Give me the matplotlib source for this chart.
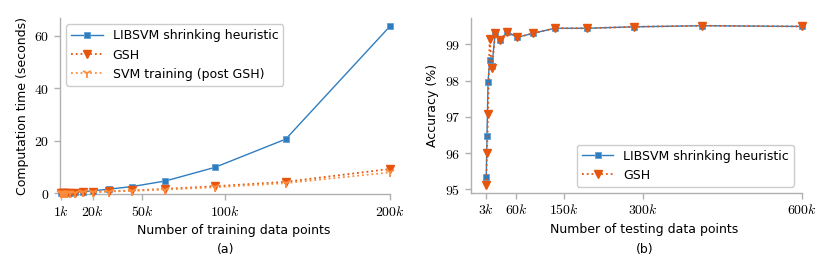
import matplotlib
matplotlib.use("Agg")
import matplotlib.pyplot as plt

plt.rcParams['font.family'] = ['DejaVu Sans']
plt.rcParams['mathtext.fontset'] = 'cm'

# ---- data (a) ----
train_k = [1, 1.46, 2.1, 3.1, 4.5, 6.6, 9.6, 14, 20.5, 30, 44, 64, 94, 137, 200]
libsvm_time = [0.02, 0.03, 0.05, 0.08, 0.12, 0.2, 0.35, 0.55, 0.9, 1.5, 2.5, 4.6, 9.8, 20.6, 63.6]
gsh_time = [0.01, 0.02, 0.03, 0.05, 0.08, 0.12, 0.2, 0.3, 0.45, 0.7, 1.0, 1.6, 2.6, 4.3, 9.2]
svm_post_time = [0.01, 0.02, 0.03, 0.04, 0.06, 0.1, 0.17, 0.25, 0.38, 0.6, 0.85, 1.35, 2.2, 3.8, 7.9]
xticks_a = [1, 20, 50, 100, 200]
xtick_labels_a = ['$1k$', '$20k$', '$50k$', '$100k$', '$200k$']
yticks_a = [0, 20, 40, 60]

# ---- data (b) ----
test_k = [3, 4.4, 6.4, 9.4, 13.7, 20, 29, 43, 62, 91, 133, 194, 283, 412, 600]
libsvm_acc = [95.34, 96.46, 97.96, 98.56, 98.39, 99.32, 99.12, 99.33, 99.19, 99.30, 99.44, 99.44, 99.48, 99.51, 99.49]
gsh_acc = [95.12, 96.01, 97.08, 99.15, 98.34, 99.32, 99.12, 99.33, 99.19, 99.30, 99.44, 99.44, 99.48, 99.51, 99.49]
xticks_b = [3, 60, 150, 300, 600]
xtick_labels_b = ['$3k$', '$60k$', '$150k$', '$300k$', '$600k$']
yticks_b = [95, 96, 97, 98, 99]

BLUE = '#2f7dbf'
ORANGE = '#e6550d'
LORANGE = '#fd8d3c'
GREY = '#b0b0b0'
FS = 8.5

fig = plt.figure(figsize=(8.3, 2.7), dpi=100)
axa = fig.add_axes([0.0725, 0.280, 0.417, 0.653])
axb = fig.add_axes([0.567, 0.285, 0.418, 0.648])


def style(ax):
    for s in ['top', 'right']:
        ax.spines[s].set_visible(False)
    for s in ['left', 'bottom']:
        ax.spines[s].set_color(GREY)
        ax.spines[s].set_linewidth(1.0)
    ax.tick_params(colors='black', length=4, width=1.0, labelsize=FS + 1.5, direction='out')
    ax.tick_params(axis='both', color=GREY)


axa.plot(train_k, libsvm_time, '-s', color=BLUE, ms=4.5, lw=1.0, mec='#5fa0d6', mew=0.6,
         label='LIBSVM shrinking heuristic', clip_on=False, zorder=3)
axa.plot(train_k, gsh_time, ':v', color=ORANGE, ms=5.5, lw=1.3,
         label='GSH', clip_on=False, zorder=4)
axa.plot(train_k, svm_post_time, ':1', color=LORANGE, ms=7, lw=1.3, mew=1.3,
         label='SVM training (post GSH)', clip_on=False, zorder=4)
axa.set_xlim(0.4, 210)
axa.set_ylim(-0.5, 66.8)
axa.set_xticks(xticks_a)
axa.set_xticklabels(xtick_labels_a)
axa.set_yticks(yticks_a)
axa.set_yticklabels(['$%d$' % v for v in yticks_a])
style(axa)
axa.spines['bottom'].set_bounds(0.4, 200)
axa.set_xlabel('Number of training data points', fontsize=FS + 0.5, labelpad=4)
axa.set_ylabel('Computation time (seconds)', fontsize=FS + 0.5, labelpad=4)
axa.legend(loc='upper left', fontsize=FS + 0.5, frameon=True, fancybox=True,
           edgecolor='#cccccc', framealpha=1.0, borderpad=0.4, handlelength=2.5,
           bbox_to_anchor=(0.0, 1.0))

axb.plot(test_k, libsvm_acc, '-s', color=BLUE, ms=4.5, lw=1.0, mec='#5fa0d6', mew=0.6,
         label='LIBSVM shrinking heuristic', clip_on=False, zorder=3)
axb.plot(test_k, gsh_acc, ':v', color=ORANGE, ms=5.5, lw=1.3,
         label='GSH', clip_on=False, zorder=4)
axb.set_xlim(-26.6, 629.8)
axb.set_ylim(94.90, 99.72)
axb.set_xticks(xticks_b)
axb.set_xticklabels(xtick_labels_b)
axb.set_yticks(yticks_b)
axb.set_yticklabels(['$%d$' % v for v in yticks_b])
style(axb)
axb.spines['bottom'].set_bounds(-26.6, 600)
axb.set_xlabel('Number of testing data points', fontsize=FS + 0.5, labelpad=4)
axb.set_ylabel('Accuracy (%)', fontsize=FS + 0.5, labelpad=4)
axb.legend(loc='lower right', fontsize=FS + 0.5, frameon=True, fancybox=True,
           edgecolor='#cccccc', framealpha=1.0, borderpad=0.4, handlelength=2.5,
           bbox_to_anchor=(0.95, 0.0))

# sub-captions
fig.text(226 / 830, 1 - 250 / 270, '(a)', ha='center', va='center', fontsize=FS + 0.5)
fig.text(645 / 830, 1 - 250 / 270, '(b)', ha='center', va='center', fontsize=FS + 0.5)

fig.savefig('out.png', dpi=100)
